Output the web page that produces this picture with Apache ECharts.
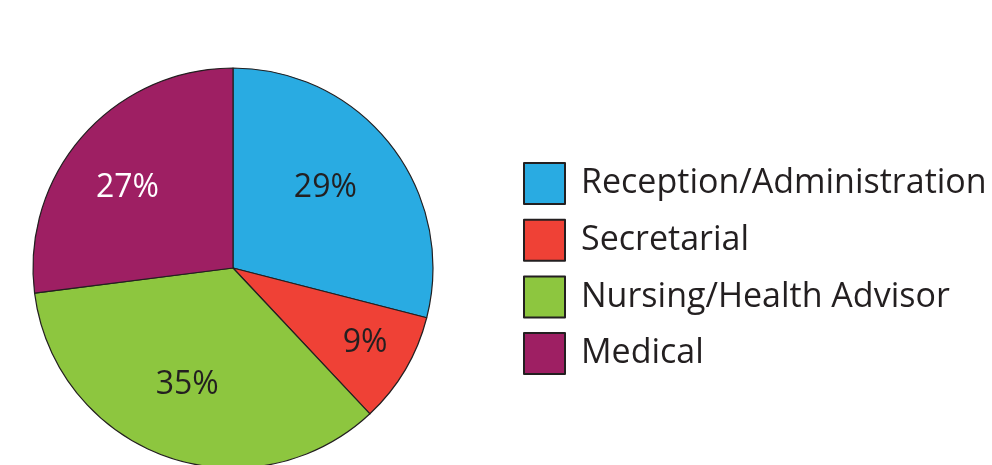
<!DOCTYPE html>
<html>
<head>
<meta charset="utf-8">
<script src="https://cdn.jsdelivr.net/npm/echarts@6/dist/echarts.min.js"></script>
<style>
  html, body { margin: 0; padding: 0; background: #fff; }
  #pie { width: 992px; height: 465px; }
</style>
</head>
<body>
<div id="pie"></div>
<script>
// staff roles, share of total (%)
const categories = ['Reception/Administration', 'Secretarial', 'Nursing/Health Advisor', 'Medical']
const shares = [29, 9, 35, 27]
const colors = ['#29abe2', '#ef4136', '#8dc63f', '#9e1f63']
const labelColors = ['#231f20', '#231f20', '#231f20', '#ffffff']
// label placement: fraction of radius, and angle tweak (deg, clockwise) from slice middle
const labelRadius = [0.612, 0.76, 0.628, 0.663]
const labelTurn = [-3.2, -0.9, 1.6, -4.1]

const center = [233, 268]
const radius = 200

const pieChart = echarts.init(document.getElementById('pie'))
const option = {
  animation: false,
  legend: {
    orient: 'vertical',
    left: 518,
    top: 157,
    icon: 'rect',
    itemWidth: 41,
    itemHeight: 41,
    itemGap: 13.7,
    selectedMode: false,
    textStyle: {
      fontFamily: 'Open Sans',
      fontSize: 34,
      lineHeight: 41,
      color: '#231f20',
      padding: [0, 0, 0, 11]
    },
    data: categories
  },
  series: [
    {
      type: 'pie',
      center: center,
      radius: radius,
      startAngle: 90,
      clockwise: true,
      silent: true,
      emphasis: { disabled: true },
      itemStyle: { borderColor: '#231f20', borderWidth: 1.2 },
      label: {
        show: true,
        position: 'inside',
        formatter: '{c}%',
        fontFamily: 'Open Sans',
        fontSize: 32
      },
      labelLine: { show: false },
      labelLayout: (p) => {
        const lx = p.labelRect.x + p.labelRect.width / 2
        const ly = p.labelRect.y + p.labelRect.height / 2
        // 'inside' puts the label on the slice middle; push it out and turn it a little
        const a = Math.atan2(ly - center[1], lx - center[0]) + labelTurn[p.dataIndex] * Math.PI / 180
        const r = labelRadius[p.dataIndex] * radius
        return {
          dx: center[0] + r * Math.cos(a) - lx,
          dy: center[1] + r * Math.sin(a) - ly
        }
      },
      data: categories.map((name, i) => ({
        name: name,
        value: shares[i],
        itemStyle: { color: colors[i] },
        label: { color: labelColors[i] }
      }))
    }
  ]
}
pieChart.setOption(option)
</script>
</body>
</html>
